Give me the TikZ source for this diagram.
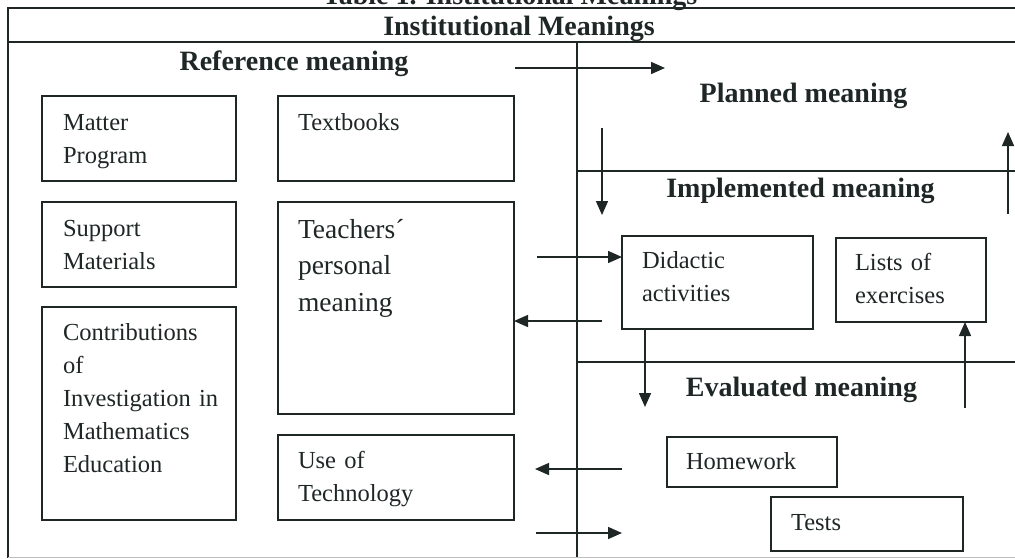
\documentclass[tikz,border=0pt]{standalone}
\usepackage{fontspec}
\setmainfont{Liberation Serif}
\usetikzlibrary{arrows.meta,calc}
\definecolor{ink}{RGB}{30,38,38}
\begin{document}
\begin{tikzpicture}[x=1pt,y=-1pt,
  rule/.style={draw=ink,line width=1.3pt},
  faint/.style={draw=black!25,line width=0.8pt},
  boxn/.style={draw=ink,line width=1.3pt,inner sep=0pt,outer sep=0pt,anchor=north west},
  txt/.style={inner sep=0pt,outer sep=0pt,anchor=base west,text width=180pt,align=left,
    font=\fontsize{24.5}{33}\selectfont,text=ink},
  bigtxt/.style={txt,font=\fontsize{27.5}{36.5}\selectfont},
  head/.style={inner sep=0pt,anchor=base,font=\fontsize{28}{33}\selectfont\bfseries,text=ink},
  arr/.style={draw=ink,line width=1.5pt,-{Triangle[length=14pt,width=12pt]}}]
\useasboundingbox (0,0) rectangle (1015,558);
% frame
\coordinate (tl) at (8,8);
\coordinate (tr) at (1015,8);
\coordinate (hl) at (8,42);
\coordinate (hr) at (1015,42);
\coordinate (bl) at (8,558);
\coordinate (dt) at (577,42);
\coordinate (db) at (577,558);
\coordinate (l1a) at (577,171);
\coordinate (l1b) at (1015,171);
\coordinate (l2a) at (577,362);
\coordinate (l2b) at (1015,362);
\draw[rule] (tr) -- (tl) -- (bl);
\draw[rule] (hl) -- (hr);
\draw[rule] (dt) -- (db);
\draw[rule] (l1a) -- (l1b);
\draw[rule] (l2a) -- (l2b);
\draw[faint] (8,557) -- (1015,557);
% headings
\node[head] (ttl) at (510,4) {Table 1. Institutional Meanings};
\node[head] (inst) at (519,35) {Institutional Meanings};
\node[head] (refm) at (294,70) {Reference meaning};
\node[head] (plan) at (803.5,102) {Planned meaning};
\node[head] (impl) at (800.5,197) {Implemented meaning};
\node[head] (eval) at (801.5,396) {Evaluated meaning};
% left column boxes
\node[boxn,minimum width=194pt,minimum height=85pt] (mp) at (42,96) {};
\node[txt] (mpt) at (63,130) {Matter\\Program};
\node[boxn,minimum width=194pt,minimum height=85pt] (sm) at (42,202) {};
\node[txt] (smt) at (63,236) {Support\\Materials};
\node[boxn,minimum width=194pt,minimum height=213pt] (ci) at (42,307) {};
\node[txt] (cit) at (63,340) {Contributions\\of\\Investigation in\\Mathematics\\Education};
% middle column boxes
\node[boxn,minimum width=236pt,minimum height=85pt] (tb) at (278,96) {};
\node[txt] (tbt) at (298,130) {Textbooks};
\node[boxn,minimum width=236pt,minimum height=212pt] (tp) at (278,202) {};
\node[bigtxt] (tpt) at (298,238) {Teachers´\\personal\\meaning};
\node[boxn,minimum width=236pt,minimum height=85pt] (ut) at (278,435) {};
\node[txt] (utt) at (298,468) {Use of\\Technology};
% right boxes
\node[boxn,minimum width=191pt,minimum height=93pt] (da) at (622,236) {};
\node[txt] (dat) at (642,268) {Didactic\\activities};
\node[boxn,minimum width=150pt,minimum height=84pt] (le) at (836,238) {};
\node[txt] (let) at (855,270) {Lists of\\exercises};
\node[boxn,minimum width=170pt,minimum height=50pt] (hw) at (667,437) {};
\node[txt] (hwt) at (686,469) {Homework};
\node[boxn,minimum width=192pt,minimum height=54pt] (ts) at (771,497) {};
\node[txt] (tst) at (791,530) {Tests};
% arrows
\coordinate (a1s) at (515,68);
\coordinate (a1e) at (665,68);
\draw[arr] (a1s) -- (a1e);
\coordinate (a2s) at (602,128);
\coordinate (a2e) at (602,215);
\draw[arr] (a2s) -- (a2e);
\coordinate (a3s) at (1008,214);
\coordinate (a3e) at (1008,132);
\draw[arr] (a3s) -- (a3e);
\coordinate (a4s) at (537,257);
\draw[arr] (a4s) -- (a4s -| da.west);
\coordinate (a5s) at (602,321);
\draw[arr] (a5s) -- (a5s -| tp.east);
\coordinate (a6s) at (645,329);
\coordinate (a6e) at (645,407);
\draw[arr] (a6s) -- (a6e);
\coordinate (a7s) at (965,408);
\draw[arr] (a7s) -- (a7s |- le.south);
\coordinate (a8s) at (622,469);
\coordinate (a8e) at (535,469);
\draw[arr] (a8s) -- (a8e);
\coordinate (a9s) at (536,533);
\coordinate (a9e) at (622,533);
\draw[arr] (a9s) -- (a9e);
\end{tikzpicture}
\end{document}
